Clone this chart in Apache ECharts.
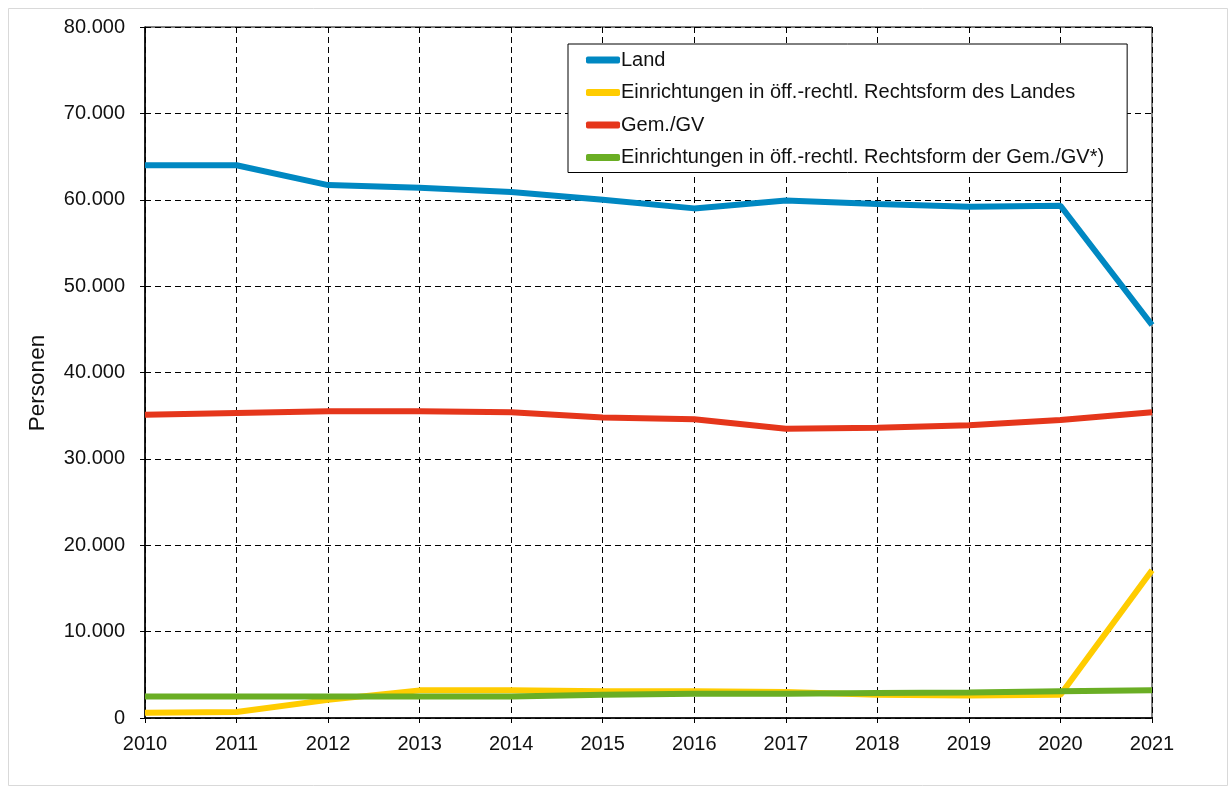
<!DOCTYPE html>
<html>
<head>
<meta charset="utf-8">
<script src="https://cdn.jsdelivr.net/npm/echarts@6/dist/echarts.min.js"></script>
<style>
html,body{margin:0;padding:0;background:#fff;}
#chart{width:1230px;height:787px;}
</style>
</head>
<body>
<div id="chart"></div>
<script>
// Jahre und Werte (Personen)
var years = ['2010','2011','2012','2013','2014','2015','2016','2017','2018','2019','2020','2021'];
var land = [64000, 64000, 61700, 61400, 60900, 60000, 59000, 59900, 59500, 59200, 59300, 45500];
var landEinr = [600, 700, 2100, 3200, 3200, 3100, 3100, 3000, 2700, 2600, 2700, 17100];
var gemGv = [35100, 35300, 35500, 35500, 35400, 34800, 34600, 33500, 33600, 33900, 34500, 35400];
var gemEinr = [2500, 2500, 2500, 2500, 2500, 2700, 2800, 2800, 2900, 2950, 3100, 3200];
var names = ['Land', 'Einrichtungen in öff.-rechtl. Rechtsform des Landes', 'Gem./GV', 'Einrichtungen in öff.-rechtl. Rechtsform der Gem./GV*)'];
var colors = ['#0088c2', '#ffcc00', '#e5361b', '#6aae24'];

var chart = echarts.init(document.getElementById('chart'));

function fmt(v){
	return String(v).replace(/\B(?=(\d{3})+(?!\d))/g, '.');
}

function line(name, data, color){
	return {
		name: name,
		type: 'line',
		data: data,
		symbol: 'none',
		lineStyle: {width: 6, color: color},
		itemStyle: {color: color}
	};
}

var option = {
	backgroundColor: '#fff',
	animation: false,
	textStyle: {fontFamily: 'Liberation Sans, Arial, sans-serif'},
	graphic: [{
		type: 'rect',
		shape: {x: 8.5, y: 8.5, width: 1219, height: 777},
		style: {fill: 'none', stroke: '#d9d9d9', lineWidth: 1},
		silent: true
	}, {
		// Achsentitel, leicht unter der Mitte wie im Original
		type: 'text',
		x: 38, y: 383,
		rotation: Math.PI / 2,
		style: {
			text: 'Personen',
			font: '22.5px "Liberation Sans", Arial, sans-serif',
			fill: '#111',
			align: 'center',
			verticalAlign: 'middle'
		},
		silent: true
	}],
	grid: {
		left: 145, top: 27, right: 78, bottom: 69,
		show: true, borderColor: '#000', borderWidth: 1
	},
	legend: {
		orient: 'vertical',
		left: 568, top: 44,
		padding: [5, 23, 4, 18],
		itemWidth: 34, itemHeight: 7, itemGap: 10.5,
		icon: 'roundRect',
		borderColor: '#000', borderWidth: 1,
		backgroundColor: '#fff',
		textStyle: {fontSize: 20, color: '#111', lineHeight: 22, padding: [0, 0, 0, -4], fontFamily: 'Liberation Sans, Arial, sans-serif'},
		data: names
	},
	xAxis: {
		type: 'category',
		data: years,
		boundaryGap: false,
		axisLine: {lineStyle: {color: '#000', width: 1.5}},
		axisTick: {show: true, length: 5, inside: false, lineStyle: {color: '#000'}},
		axisLabel: {fontSize: 20, color: '#111', margin: 16},
		splitLine: {show: true, lineStyle: {color: '#000', type: [6, 4], width: 1}}
	},
	yAxis: {
		type: 'value',
		min: 0, max: 80000, interval: 10000,
		axisLine: {show: true, lineStyle: {color: '#000', width: 1.5}},
		axisTick: {show: true, length: 5, lineStyle: {color: '#000'}},
		axisLabel: {fontSize: 20, color: '#111', margin: 20, formatter: fmt},
		splitLine: {show: true, lineStyle: {color: '#000', type: [6, 4], width: 1}}
	},
	series: [
		line(names[0], land, colors[0]),
		line(names[1], landEinr, colors[1]),
		line(names[2], gemGv, colors[2]),
		line(names[3], gemEinr, colors[3])
	]
};

chart.setOption(option);
</script>
</body>
</html>
